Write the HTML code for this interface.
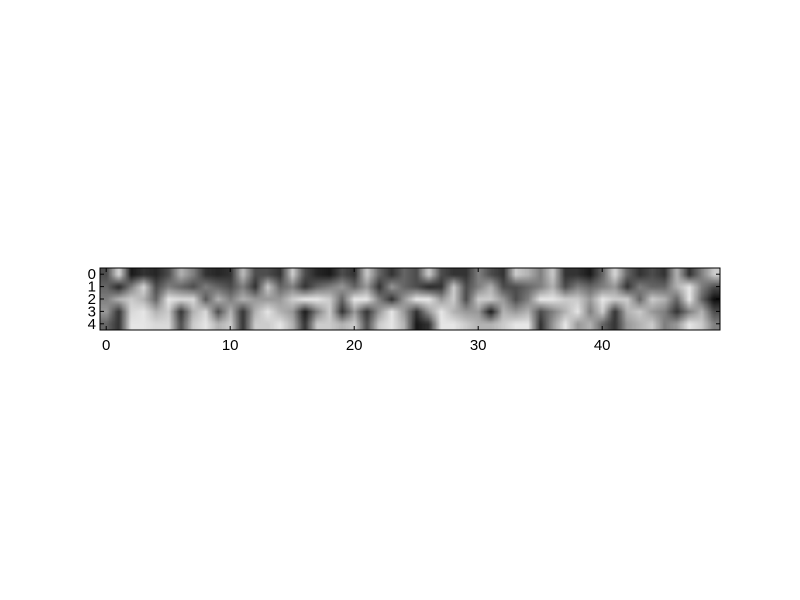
<!DOCTYPE html>
<html><head><meta charset="utf-8"><style>
html,body{margin:0;padding:0;background:#fff;width:800px;height:600px;overflow:hidden}
#wrap{position:relative;width:800px;height:600px;background:#fff}
canvas{position:absolute;left:100px;top:268px;width:620px;height:62px}
svg{position:absolute;left:0;top:0}
text{font-family:"Liberation Sans",sans-serif;font-size:15px;fill:#000}
</style></head><body>
<div id="wrap">
<canvas id="heat" width="620" height="62"></canvas>
<svg id="ax" width="800" height="600"></svg>
</div>
<script>
const row0=[0.3,0.85,0.1,0.2,0.15,0.3,0.7,0.5,0.2,0.15,0.2,0.75,0.3,0.3,0.2,0.8,0.3,0.15,0.1,0.3,0.2,0.8,0.4,0.2,0.4,0.3,0.8,0.3,0.2,0.2,0.5,0.3,0.2,0.8,0.7,0.5,0.8,0.2,0.2,0.1,0.4,0.85,0.4,0.2,0.3,0.2,0.7,0.2,0.5,0.8];
const row1=[0.4,0.15,0.5,0.85,0.3,0.5,0.4,0.3,0.5,0.4,0.3,0.5,0.2,0.8,0.4,0.5,0.2,0.4,0.5,0.6,0.4,0.6,0.2,0.6,0.4,0.3,0.15,0.2,0.8,0.3,0.5,0.7,0.3,0.3,0.4,0.5,0.7,0.3,0.5,0.4,0.5,0.6,0.2,0.5,0.4,0.4,0.7,0.9,0.5,0.3];
const row2=[0.5,0.7,0.8,0.7,0.4,0.9,0.85,0.85,0.35,0.7,0.5,0.7,0.6,0.6,0.6,0.8,0.9,0.9,0.8,0.4,0.9,0.9,0.5,0.2,0.6,0.9,0.9,0.6,0.8,0.3,0.8,0.8,0.6,0.3,0.5,0.9,0.9,0.8,0.8,0.6,0.9,0.8,0.8,0.4,0.8,0.7,0.4,0.9,0.4,0.05];
const row3=[0.6,0.2,0.85,0.9,0.7,0.8,0.2,0.7,0.85,0.3,0.7,0.2,0.7,0.9,0.7,0.6,0.1,0.5,0.8,0.2,0.6,0.2,0.6,0.9,0.6,0.2,0.6,0.9,0.7,0.6,0.6,0.1,0.7,0.6,0.7,0.3,0.5,0.7,0.9,0.5,0.8,0.2,0.7,0.8,0.6,0.5,0.2,0.5,0.7,0.3];
const row4=[0.4,0.2,0.9,0.9,0.85,0.85,0.3,0.8,0.9,0.7,0.8,0.2,0.8,0.8,0.9,0.7,0.2,0.8,0.8,0.7,0.8,0.3,0.8,0.9,0.7,0.1,0.2,0.9,0.9,0.8,0.7,0.7,0.8,0.9,0.9,0.2,0.6,0.9,0.6,0.7,0.4,0.2,0.6,0.7,0.8,0.5,0.6,0.9,0.8,0.5];
const rows=[row0,row1,row2,row3,row4];
const xTicks=[0,10,20,30,40];
const yTicks=[0,1,2,3,4];

const L=100,T=268,W=620,H=62,NX=50,NY=5;
const sx=v=>L+(v+0.5)*W/NX;
const sy=v=>T+(v+0.5)*H/NY;

const small=document.createElement('canvas');small.width=NX;small.height=NY;
const sc=small.getContext('2d');const img=sc.createImageData(NX,NY);
rows.forEach((r,j)=>r.forEach((v,i)=>{const g=Math.round(v*255);const k=(j*NX+i)*4;img.data[k]=g;img.data[k+1]=g;img.data[k+2]=g;img.data[k+3]=255;}));
sc.putImageData(img,0,0);
const ctx=document.getElementById('heat').getContext('2d');
ctx.imageSmoothingEnabled=true;ctx.imageSmoothingQuality='low';
ctx.drawImage(small,0,0,NX,NY,0,0,W,H);

const NS='http://www.w3.org/2000/svg';const svg=document.getElementById('ax');
function mk(tag,a){const e=document.createElementNS(NS,tag);for(const k in a)e.setAttribute(k,a[k]);svg.appendChild(e);return e;}
const frame=mk('rect',{x:L,y:T,width:W,height:H,fill:'none',stroke:'#000','stroke-width':1});


xTicks.forEach(v=>{
  const x=sx(v);
  const t1=mk('line',{x1:x,y1:T+H,x2:x,y2:T+H-4,stroke:'#000'});
  
  
  const t2=mk('line',{x1:x,y1:T,x2:x,y2:T+4,stroke:'#000'});
  
  
  const lb=mk('text',{x:x,y:T+H+20,'text-anchor':'middle'});lb.textContent=v;
  
  
});
yTicks.forEach(v=>{
  const y=sy(v);
  const t1=mk('line',{x1:L,y1:y,x2:L+4,y2:y,stroke:'#000'});
  
  
  const t2=mk('line',{x1:L+W,y1:y,x2:L+W-4,y2:y,stroke:'#000'});
  
  
  const lb=mk('text',{x:L-4,y:y+5,'text-anchor':'end'});lb.textContent=v;
  
  
});
</script>
</body></html>
